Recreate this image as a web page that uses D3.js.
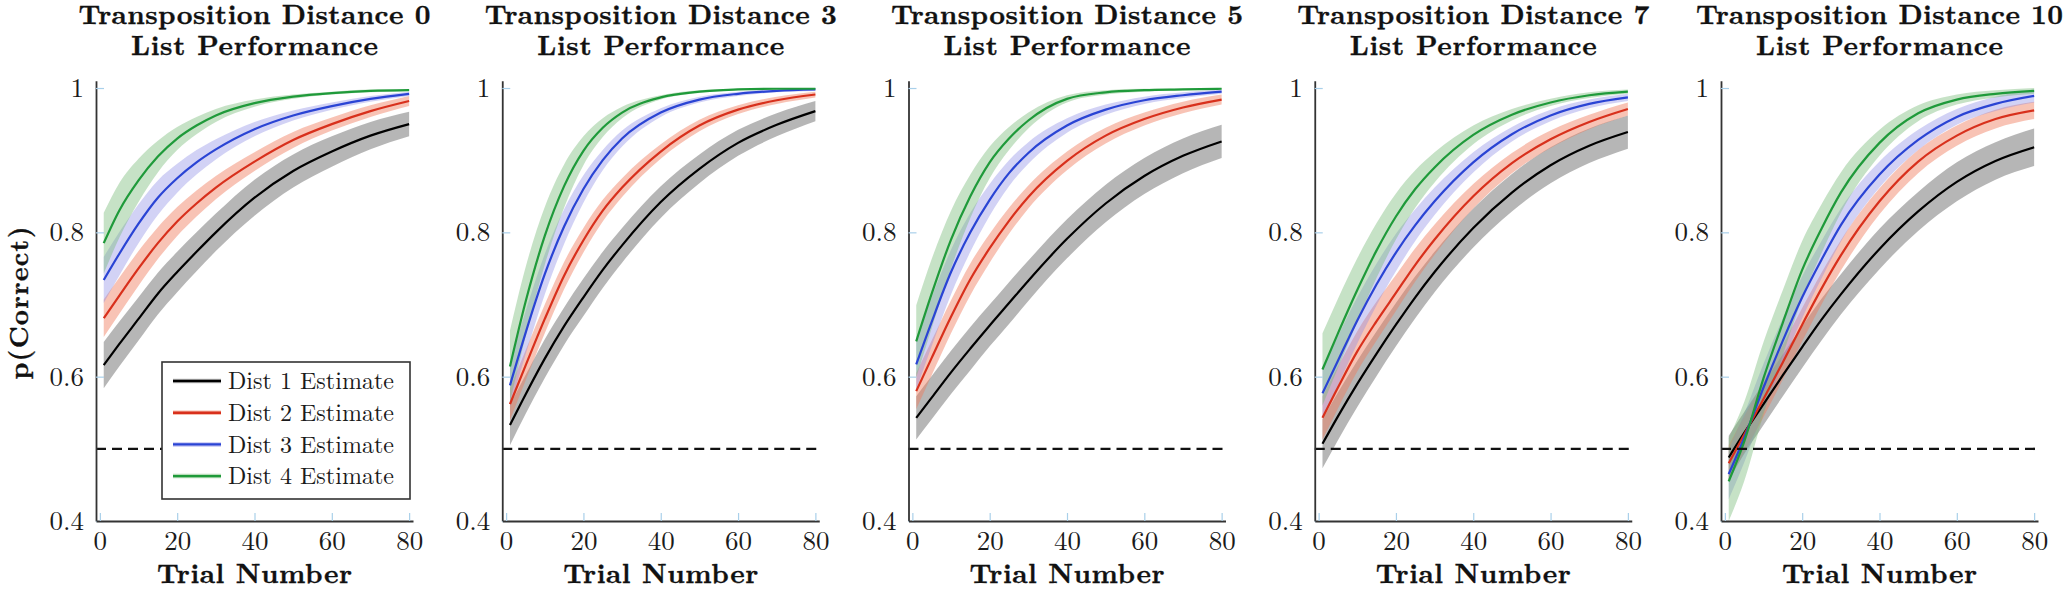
<!DOCTYPE html>
<html><head><meta charset="utf-8">
<script src="https://cdn.jsdelivr.net/npm/d3@7"></script>
<style>
html,body{margin:0;padding:0;background:#fff;}
svg{display:block}
svg text{font-family:"Latin Modern Roman","Liberation Serif",serif;}
</style>
</head><body>
<svg id="chart" width="2066" height="590"></svg>
<script>
// ---------- data ----------
const trials = [1, 5, 10, 15, 20, 25, 30, 40, 50, 60, 70, 80];
const panelTitles = ["Transposition Distance 0", "Transposition Distance 3", "Transposition Distance 5", "Transposition Distance 7", "Transposition Distance 10"];
const titleLine2 = "List Performance";
const seriesNames = ["Dist 1 Estimate", "Dist 2 Estimate", "Dist 3 Estimate", "Dist 4 Estimate"];
const xTicks = [0, 20, 40, 60, 80];
const yTicks = [0.4, 0.6, 0.8, 1];
const yTickLabels = ["0.4", "0.6", "0.8", "1"];
const chanceLevel = 0.5;
const xLabel = "Trial Number";
const yLabel = "p(Correct)";

// mean estimates per panel: [Dist1, Dist2, Dist3, Dist4]
const mean_d0 = [
  [.616,.645,.680,.715,.745,.773,.800,.848,.885,.912,.934,.950],
  [.681,.712,.750,.785,.815,.840,.862,.898,.928,.950,.968,.982],
  [.734,.770,.812,.848,.875,.897,.915,.943,.962,.975,.985,.992],
  [.785,.830,.872,.905,.930,.948,.962,.979,.988,.993,.996,.997]];
const mean_d3 = [
  [.533,.575,.625,.670,.710,.748,.782,.842,.888,.924,.949,.968],
  [.562,.615,.680,.740,.789,.830,.862,.912,.948,.970,.983,.991],
  [.588,.660,.742,.808,.860,.900,.930,.966,.984,.992,.996,.998],
  [.614,.703,.795,.864,.913,.945,.966,.987,.995,.998,.999,.999]];
const mean_d5 = [
  [.543,.571,.606,.639,.671,.702,.733,.791,.840,.878,.906,.926],
  [.580,.626,.683,.735,.778,.816,.849,.899,.934,.957,.973,.984],
  [.617,.676,.745,.800,.845,.882,.910,.948,.970,.983,.990,.995],
  [.649,.715,.790,.850,.897,.930,.955,.985,.994,.997,.998,.999]];
const mean_d7 = [
  [.507,.545,.590,.632,.672,.710,.745,.806,.855,.893,.920,.939],
  [.543,.585,.635,.677,.716,.755,.790,.850,.896,.929,.953,.971],
  [.577,.622,.678,.728,.772,.810,.843,.897,.936,.962,.978,.987],
  [.610,.660,.720,.775,.822,.860,.890,.935,.963,.980,.990,.995]];
const mean_d10 = [
  [.488,.522,.562,.602,.641,.679,.714,.777,.829,.870,.899,.918],
  [.480,.520,.569,.620,.672,.722,.768,.843,.898,.934,.957,.969],
  [.465,.515,.585,.650,.710,.762,.810,.880,.928,.960,.978,.989],
  [.455,.510,.598,.675,.748,.805,.855,.924,.965,.984,.992,.996]];

// half-width of the shaded uncertainty band
const band_d0 = [
  [.032,.031,.030,.029,.028,.027,.026,.025,.023,.021,.019,.017],
  [.026,.025,.024,.022,.020,.018,.016,.013,.011,.009,.008,.007],
  [.032,.030,.027,.024,.020,.017,.014,.010,.007,.005,.004,.003],
  [.042,.038,.030,.022,.016,.012,.009,.005,.003,.002,.002,.001]];
const band_d3 = [
  [.028,.027,.027,.026,.026,.025,.024,.022,.020,.018,.016,.014],
  [.022,.021,.020,.019,.017,.015,.013,.010,.008,.006,.005,.004],
  [.030,.030,.028,.024,.019,.014,.011,.006,.004,.003,.002,.002],
  [.050,.048,.040,.030,.020,.013,.008,.003,.002,.001,.001,.001]];
const band_d5 = [
  [.030,.030,.030,.030,.029,.029,.028,.027,.026,.025,.024,.023],
  [.025,.024,.023,.022,.020,.018,.016,.013,.011,.009,.008,.007],
  [.035,.034,.031,.027,.022,.018,.015,.010,.007,.005,.004,.003],
  [.050,.048,.040,.030,.022,.016,.011,.005,.003,.002,.001,.001]];
const band_d7 = [
  [.034,.033,.032,.031,.030,.029,.028,.027,.026,.025,.024,.023],
  [.030,.029,.028,.027,.025,.023,.021,.017,.014,.012,.010,.009],
  [.035,.034,.032,.029,.026,.022,.019,.014,.010,.008,.006,.005],
  [.050,.048,.044,.038,.032,.026,.021,.013,.008,.005,.004,.003]];
const band_d10 = [
  [.030,.029,.029,.029,.029,.029,.028,.028,.027,.027,.026,.026],
  [.025,.025,.025,.024,.023,.022,.021,.018,.016,.014,.013,.012],
  [.035,.034,.033,.031,.029,.026,.023,.018,.014,.011,.010,.009],
  [.060,.055,.050,.045,.040,.034,.028,.018,.011,.007,.005,.004]];

const panelMeans = [mean_d0, mean_d3, mean_d5, mean_d7, mean_d10];
const panelBands = [band_d0, band_d3, band_d5, band_d7, band_d10];

// ---------- styles ----------
const lineColors = ["#000000", "#d8301c", "#2a44d4", "#1f9a3a"];
const bandColors = ["#7a7a7a", "#f07a5a", "#8a8ae6", "#76bb76"];
const bandOpacity = [0.55, 0.45, 0.38, 0.42];
const tickBlue = "#a9d0ea";
const axisCol = "#333";

const svg = d3.select("#chart");
const firstAxisX = 96, panelStep = 406.25, plotW = 317;
const yBottom = 521, yTop = 80.8;

const y = d3.scaleLinear().domain([0.4, 1.01]).range([yBottom, yTop]);

function boldText(g) {
  return g.append("text").attr("fill", "#111").attr("font-weight", "bold")
    .attr("stroke", "#111").attr("stroke-width", 0.35);
}

panelTitles.forEach((title, p) => {
  const left = firstAxisX + p * panelStep;
  const x = d3.scaleLinear().domain([-1, 81]).range([left, left + plotW]);
  const g = svg.append("g");
  const cx = left + plotW / 2;

  // two-line title
  const tt = boldText(g).attr("text-anchor", "middle").attr("font-size", 27.5);
  tt.append("tspan").attr("x", cx).attr("y", 24)
    .attr("textLength", title.length > 24 ? 367 : 352).attr("lengthAdjust", "spacing").text(title);
  tt.append("tspan").attr("x", cx).attr("y", 54.5)
    .attr("textLength", 247).attr("lengthAdjust", "spacing").text(titleLine2);

  // bands and lines
  const means = panelMeans[p], bands = panelBands[p];
  means.forEach((m, s) => {
    const pts = trials.map((t, i) => ({t, v: m[i], w: bands[s][i]}));
    const area = d3.area().curve(d3.curveMonotoneX)
      .x(d => x(d.t)).y0(d => y(Math.max(0.4, d.v - d.w))).y1(d => y(Math.min(1.005, d.v + d.w)));
    g.append("path").attr("d", area(pts)).attr("fill", bandColors[s]).attr("fill-opacity", bandOpacity[s]).attr("stroke", "none");
  });
  means.forEach((m, s) => {
    const pts = trials.map((t, i) => ({t, v: m[i]}));
    const line = d3.line().curve(d3.curveMonotoneX).x(d => x(d.t)).y(d => y(d.v));
    g.append("path").attr("d", line(pts)).attr("fill", "none").attr("stroke", lineColors[s]).attr("stroke-width", 2.2);
  });

  // chance line
  g.append("line").attr("x1", left).attr("x2", left + plotW).attr("y1", y(chanceLevel)).attr("y2", y(chanceLevel))
    .attr("stroke", "#111").attr("stroke-width", 2.4).attr("stroke-dasharray", "10,6");

  // axes
  const yAxis = d3.axisLeft(y).tickValues(yTicks).tickFormat((d, i) => yTickLabels[i])
    .tickSizeInner(-8).tickSizeOuter(0).tickPadding(12);
  const ya = g.append("g").attr("transform", `translate(${left},0)`).call(yAxis);
  const xAxis = d3.axisBottom(x).tickValues(xTicks).tickSizeInner(-8).tickSizeOuter(0).tickPadding(10);
  const xa = g.append("g").attr("transform", `translate(0,${yBottom})`).call(xAxis);
  [ya, xa].forEach(a => {
    a.attr("font-family", null).attr("font-size", null);
    a.select(".domain").attr("stroke", axisCol).attr("stroke-width", 1.8);
    a.selectAll(".tick line").attr("stroke", tickBlue).attr("stroke-width", 1.2);
    a.selectAll(".tick text").attr("font-size", 27).attr("fill", "#1a1a1a");
  });

  // x label
  boldText(g).attr("x", cx).attr("y", 583).attr("text-anchor", "middle").attr("font-size", 27.5)
    .attr("textLength", 195).attr("lengthAdjust", "spacing").text(xLabel);

  if (p === 0) {
    // y label
    boldText(g).attr("transform", `translate(28,303) rotate(-90)`).attr("text-anchor", "middle")
      .attr("font-size", 26.5).attr("textLength", 153).attr("lengthAdjust", "spacing").text(yLabel);

    // legend
    const lg = g.append("g");
    lg.append("rect").attr("x", 162).attr("y", 362).attr("width", 248).attr("height", 137)
      .attr("fill", "#fff").attr("stroke", axisCol).attr("stroke-width", 1.6);
    seriesNames.forEach((name, s) => {
      const ry = 381 + s * 31.7;
      lg.append("line").attr("x1", 173).attr("x2", 221).attr("y1", ry).attr("y2", ry)
        .attr("stroke", bandColors[s]).attr("stroke-opacity", 0.5).attr("stroke-width", 4.5);
      lg.append("line").attr("x1", 173).attr("x2", 221).attr("y1", ry).attr("y2", ry)
        .attr("stroke", lineColors[s]).attr("stroke-width", 2.4);
      lg.append("text").attr("x", 228).attr("y", ry).attr("dy", "0.34em")
        .attr("font-size", 24).attr("fill", "#1a1a1a")
        .attr("textLength", 166).attr("lengthAdjust", "spacing").text(name);
    });
  }
});
</script>
</body></html>
